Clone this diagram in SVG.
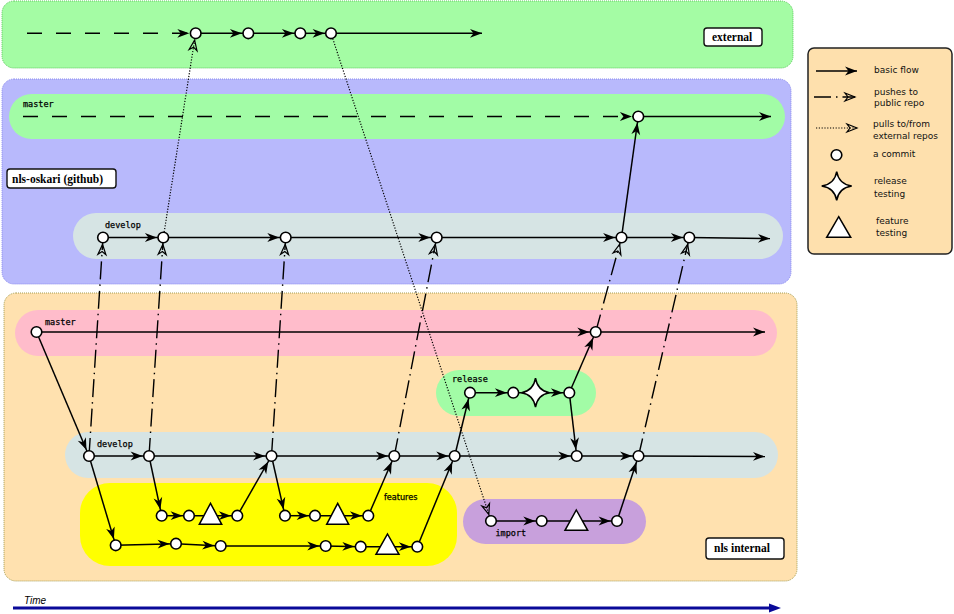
<svg xmlns="http://www.w3.org/2000/svg" width="954" height="614" viewBox="0 0 954 614">
<style>
.lbl{font-family:"DejaVu Sans Mono",monospace;font-size:8.5px;fill:#000;stroke:#000;stroke-width:0.25}
.box{fill:#fff;stroke:#111;stroke-width:1.4}
.boxt{font-family:"Liberation Serif",serif;font-weight:bold;font-size:11.5px;fill:#000}
.leg{font-family:"DejaVu Sans",sans-serif;font-size:9px;fill:#111}
.c{fill:#fff;stroke:#000;stroke-width:1.6}
.tri{fill:#fff;stroke:#000;stroke-width:1.5;stroke-linejoin:miter}
.f{stroke:#000;stroke-width:1.5;fill:none;marker-end:url(#a)}
.fe{stroke:#000;stroke-width:1.5;fill:none;marker-end:url(#e)}
.push{stroke:#000;stroke-width:1.4;fill:none;stroke-dasharray:18 5 1.5 5;marker-end:url(#o)}
.pull{stroke:#000;stroke-width:1.2;fill:none;stroke-dasharray:1.2 1.6;marker-end:url(#o)}
.dash{stroke:#000;stroke-width:1.6;fill:none;stroke-dasharray:15 14;marker-end:url(#a)}
</style>
<defs>
<marker id="a" markerUnits="userSpaceOnUse" markerWidth="12" markerHeight="10" viewBox="0 0 12 10" refX="18.4" refY="5" orient="auto" overflow="visible"><path d="M0,0.6 L12,5 L0,9.4 L3.5,5 z" fill="#000" stroke="none"/></marker>
<marker id="e" markerUnits="userSpaceOnUse" markerWidth="12" markerHeight="10" viewBox="0 0 12 10" refX="12" refY="5" orient="auto" overflow="visible"><path d="M0,0.6 L12,5 L0,9.4 L3.5,5 z" fill="#000" stroke="none"/></marker>
<marker id="o" markerUnits="userSpaceOnUse" markerWidth="11" markerHeight="10" viewBox="0 0 11 10" refX="17.5" refY="5" orient="auto" overflow="visible"><path d="M0.5,1 L10.5,5 L0.5,9 L3.5,5 z" fill="none" stroke="#000" stroke-width="1.2" stroke-dasharray="none"/></marker>
<marker id="o2" markerUnits="userSpaceOnUse" markerWidth="11" markerHeight="10" viewBox="0 0 11 10" refX="10.5" refY="5" orient="auto" overflow="visible"><path d="M0.5,1 L10.5,5 L0.5,9 L3.5,5 z" fill="none" stroke="#000" stroke-width="1.2" stroke-dasharray="none"/></marker>
</defs>

<!-- containers -->
<g id="external">
<rect x="2" y="1" width="791" height="67" rx="12" fill="#a4fca4" stroke="#5cc85c" stroke-width="1" stroke-dasharray="1 1"/>
<rect x="704" y="28" width="58" height="18" rx="3" class="box"/>
<text x="712" y="41" class="boxt">external</text>
</g>
<g id="github">
<rect x="2" y="79" width="789" height="205" rx="12" fill="#b8b9fc" stroke="#8a8aee" stroke-width="1" stroke-dasharray="1 1"/>
<rect x="7" y="169" width="109" height="19" rx="3" class="box"/>
<text x="12" y="183" class="boxt">nls-oskari (github)</text>
</g>
<g id="internal">
<rect x="4" y="293" width="793" height="288" rx="12" fill="#ffe1af" stroke="#a49c50" stroke-width="1" stroke-dasharray="1 1"/>
<rect x="706" y="538" width="78" height="21" rx="3" class="box"/>
<text x="714" y="552" class="boxt">nls internal</text>
</g>

<!-- lanes -->
<g id="lane-gh-master"><rect x="9" y="94" width="776" height="45" rx="22.5" fill="#a2fca6"/><text x="23" y="107" class="lbl">master</text></g>
<g id="lane-gh-develop"><rect x="73" y="213" width="710" height="46" rx="23" fill="#d6e4e4"/><text x="105" y="228" class="lbl">develop</text></g>
<g id="lane-in-master"><rect x="15" y="310" width="762" height="46" rx="23" fill="#ffbccb"/><text x="45" y="325" class="lbl">master</text></g>
<g id="lane-release"><rect x="436" y="370" width="160" height="46" rx="23" fill="#a2fca6"/><text x="452" y="382" class="lbl">release</text></g>
<g id="lane-in-develop"><rect x="65" y="432" width="713" height="46" rx="23" fill="#d6e4e4"/><text x="97" y="447" class="lbl">develop</text></g>
<g id="lane-features"><rect x="80" y="483" width="377" height="83" rx="30" fill="#ffff00"/><text x="384" y="499.5" font-family="DejaVu Sans Condensed, DejaVu Sans, sans-serif" font-size="9px" fill="#000" stroke="#000" stroke-width="0.25">features</text></g>
<g id="lane-import"><rect x="463" y="499" width="183" height="45" rx="22.5" fill="#c8a0dc"/><text x="495.5" y="536" class="lbl">import</text></g>

<!-- connectors -->
<g id="connectors">
<line x1="27" y1="33.3" x2="195.7" y2="33.3" class="dash"/>
<line x1="195.7" y1="33.3" x2="248.3" y2="33.3" class="f"/>
<line x1="248.3" y1="33.3" x2="300.3" y2="33.3" class="f"/>
<line x1="300.3" y1="33.3" x2="331" y2="33.3" class="f"/>
<line x1="331" y1="33.3" x2="482" y2="33.3" class="fe"/>

<line x1="23" y1="116.5" x2="638.3" y2="116.5" class="dash"/>
<line x1="638.3" y1="116.5" x2="771" y2="116.5" class="fe"/>

<line x1="103" y1="237.5" x2="163.3" y2="237.5" class="f"/>
<line x1="163.3" y1="237.5" x2="285.7" y2="237.5" class="f"/>
<line x1="285.7" y1="237.5" x2="436.7" y2="237.5" class="f"/>
<line x1="436.7" y1="237.5" x2="621.5" y2="237.5" class="f"/>
<line x1="621.5" y1="237.5" x2="689.3" y2="237.5" class="f"/>
<line x1="689.3" y1="237.5" x2="770" y2="238.5" class="fe"/>
<line x1="621.5" y1="237.5" x2="638.3" y2="116.5" class="f"/>

<line x1="36.5" y1="332" x2="595.7" y2="332" class="f"/>
<line x1="595.7" y1="332" x2="765" y2="332" class="fe"/>
<line x1="36.5" y1="332" x2="89" y2="456" class="f"/>

<line x1="89" y1="456" x2="149" y2="456" class="f"/>
<line x1="149" y1="456" x2="271.5" y2="456" class="f"/>
<line x1="271.5" y1="456" x2="394.3" y2="456" class="f"/>
<line x1="394.3" y1="456" x2="454.7" y2="456" class="f"/>
<line x1="454.7" y1="456" x2="576.7" y2="456" class="f"/>
<line x1="576.7" y1="456" x2="638.5" y2="456" class="f"/>
<line x1="638.5" y1="456" x2="765" y2="456.5" class="fe"/>

<line x1="89" y1="456" x2="115.7" y2="545.3" class="f"/>
<line x1="149" y1="456" x2="161.7" y2="515.7" class="f"/>
<line x1="161.7" y1="515.7" x2="189" y2="515.7" class="f"/>
<line x1="189" y1="515.7" x2="237.3" y2="515.7" class="f"/>
<line x1="237.3" y1="515.7" x2="271.5" y2="456" class="f"/>
<line x1="271.5" y1="456" x2="285" y2="515.7" class="f"/>
<line x1="285" y1="515.7" x2="315" y2="515.7" class="f"/>
<line x1="315" y1="515.7" x2="368.3" y2="515.7" class="f"/>
<line x1="368.3" y1="515.7" x2="394.3" y2="456" class="f"/>
<line x1="115.7" y1="545.3" x2="176" y2="543.7" class="f"/>
<line x1="176" y1="543.7" x2="220.7" y2="546" class="f"/>
<line x1="220.7" y1="546" x2="325.7" y2="546" class="f"/>
<line x1="325.7" y1="546" x2="360.7" y2="546.7" class="f"/>
<line x1="360.7" y1="546.7" x2="417.3" y2="546.7" class="f"/>
<line x1="417.3" y1="546.7" x2="454.7" y2="456" class="f"/>

<line x1="454.7" y1="456" x2="470" y2="392.7" class="f"/>
<line x1="470" y1="392.7" x2="513.3" y2="392.7" class="f"/>
<line x1="513.3" y1="392.7" x2="569.3" y2="392.7" class="f"/>
<line x1="569.3" y1="392.7" x2="595.7" y2="332" class="f"/>
<line x1="569.3" y1="392.7" x2="576.7" y2="456" class="f"/>

<line x1="491" y1="521" x2="541.7" y2="521" class="f"/>
<line x1="541.7" y1="521" x2="617" y2="521" class="f"/>
<line x1="617" y1="521" x2="638.5" y2="456" class="f"/>

<line x1="89" y1="456" x2="103" y2="237.5" class="push"/>
<line x1="149" y1="456" x2="163.3" y2="237.5" class="push"/>
<line x1="271.5" y1="456" x2="285.7" y2="237.5" class="push"/>
<line x1="394.3" y1="456" x2="436.7" y2="237.5" class="push"/>
<line x1="595.7" y1="332" x2="621.5" y2="237.5" class="push"/>
<line x1="638.5" y1="456" x2="689.3" y2="237.5" class="push"/>

<line x1="163.3" y1="237.5" x2="195.7" y2="33.3" class="pull"/>
<line x1="331" y1="33.3" x2="491" y2="521" class="pull"/>
</g>

<!-- commits -->
<g id="e1"><circle cx="195.7" cy="33.3" r="5.3" class="c"/></g>
<g id="e2"><circle cx="248.3" cy="33.3" r="5.3" class="c"/></g>
<g id="e3"><circle cx="300.3" cy="33.3" r="5.3" class="c"/></g>
<g id="e4"><circle cx="331" cy="33.3" r="5.3" class="c"/></g>
<g id="gm1"><circle cx="638.3" cy="116.5" r="5.3" class="c"/></g>
<g id="gd1"><circle cx="103" cy="237.5" r="5.3" class="c"/></g>
<g id="gd2"><circle cx="163.3" cy="237.5" r="5.3" class="c"/></g>
<g id="gd3"><circle cx="285.7" cy="237.5" r="5.3" class="c"/></g>
<g id="gd4"><circle cx="436.7" cy="237.5" r="5.3" class="c"/></g>
<g id="gd5"><circle cx="621.5" cy="237.5" r="5.3" class="c"/></g>
<g id="gd6"><circle cx="689.3" cy="237.5" r="5.3" class="c"/></g>
<g id="im1"><circle cx="36.5" cy="332" r="5.3" class="c"/></g>
<g id="im2"><circle cx="595.7" cy="332" r="5.3" class="c"/></g>
<g id="r1"><circle cx="470" cy="392.7" r="5.3" class="c"/></g>
<g id="r2"><circle cx="513.3" cy="392.7" r="5.3" class="c"/></g>
<g id="rstar"><path d="M535.5,378.2 Q537.5,390.7 549.5,392.7 Q537.5,394.7 535.5,407.2 Q533.5,394.7 521.5,392.7 Q533.5,390.7 535.5,378.2 Z" fill="#fff" stroke="#000" stroke-width="1.5"/></g>
<g id="r3"><circle cx="569.3" cy="392.7" r="5.3" class="c"/></g>
<g id="d1"><circle cx="89" cy="456" r="5.3" class="c"/></g>
<g id="d2"><circle cx="149" cy="456" r="5.3" class="c"/></g>
<g id="d3"><circle cx="271.5" cy="456" r="5.3" class="c"/></g>
<g id="d4"><circle cx="394.3" cy="456" r="5.3" class="c"/></g>
<g id="d5"><circle cx="454.7" cy="456" r="5.3" class="c"/></g>
<g id="d6"><circle cx="576.7" cy="456" r="5.3" class="c"/></g>
<g id="d7"><circle cx="638.5" cy="456" r="5.3" class="c"/></g>
<g id="f1"><circle cx="161.7" cy="515.7" r="5.3" class="c"/></g>
<g id="f2"><circle cx="189" cy="515.7" r="5.3" class="c"/></g>
<g id="ft1"><polygon points="210.5,503.3 221.7,524.3 199.3,524.3" class="tri"/></g>
<g id="f3"><circle cx="237.3" cy="515.7" r="5.3" class="c"/></g>
<g id="f4"><circle cx="285" cy="515.7" r="5.3" class="c"/></g>
<g id="f5"><circle cx="315" cy="515.7" r="5.3" class="c"/></g>
<g id="ft2"><polygon points="337.7,503.3 348.7,524.3 326.7,524.3" class="tri"/></g>
<g id="f6"><circle cx="368.3" cy="515.7" r="5.3" class="c"/></g>
<g id="g1"><circle cx="115.7" cy="545.3" r="5.3" class="c"/></g>
<g id="g2"><circle cx="176" cy="543.7" r="5.3" class="c"/></g>
<g id="g3"><circle cx="220.7" cy="546" r="5.3" class="c"/></g>
<g id="g4"><circle cx="325.7" cy="546" r="5.3" class="c"/></g>
<g id="g5"><circle cx="360.7" cy="546.7" r="5.3" class="c"/></g>
<g id="gt1"><polygon points="387.5,534 399,554.3 376,554.3" class="tri"/></g>
<g id="g6"><circle cx="417.3" cy="546.7" r="5.3" class="c"/></g>
<g id="i1"><circle cx="491" cy="521" r="5.3" class="c"/></g>
<g id="i2"><circle cx="541.7" cy="521" r="5.3" class="c"/></g>
<g id="it1"><polygon points="576.3,510 587.7,530.3 565,530.3" class="tri"/></g>
<g id="i3"><circle cx="617" cy="521" r="5.3" class="c"/></g>

<!-- time -->
<g id="time">
<text x="24" y="604" font-family="Liberation Sans, sans-serif" font-style="italic" font-size="10px" fill="#000">Time</text>
<line x1="13" y1="608" x2="771" y2="608" stroke="#0a0a99" stroke-width="3"/>
<polygon points="769,603.5 781,608 769,612.5" fill="#0a0a99"/>
</g>

<!-- legend -->
<g id="legend">
<rect x="808" y="48" width="144" height="206" rx="6" fill="#fee0ad" stroke="#222" stroke-width="1.5"/>
<line x1="816" y1="71" x2="857" y2="71" stroke="#000" stroke-width="1.5" marker-end="url(#e)"/>
<text x="874" y="73" class="leg">basic flow</text>
<line x1="814" y1="97" x2="855" y2="97" stroke="#000" stroke-width="1.4" stroke-dasharray="17 5 1.5 5" marker-end="url(#o2)"/>
<text x="874" y="95" class="leg">pushes to</text>
<text x="874" y="106" class="leg">public repo</text>
<line x1="816" y1="128" x2="857" y2="128" stroke="#000" stroke-width="1.2" stroke-dasharray="1.2 1.6" marker-end="url(#o2)"/>
<text x="873" y="127" class="leg">pulls to/from</text>
<text x="873" y="139" class="leg">external repos</text>
<circle cx="836.5" cy="155" r="5.3" class="c"/>
<text x="873" y="157" class="leg">a commit</text>
<path d="M836.7,171.5 Q838.7,184 851.7,186 Q838.7,188 836.7,200.5 Q834.7,188 821.7,186 Q834.7,184 836.7,171.5 Z" fill="#fff" stroke="#000" stroke-width="1.5"/>
<text x="874" y="184" class="leg">release</text>
<text x="874" y="197" class="leg">testing</text>
<polygon points="838.7,216.7 850.7,237.3 826.7,237.3" class="tri"/>
<text x="876" y="224" class="leg">feature</text>
<text x="876" y="236" class="leg">testing</text>
</g>
</svg>
